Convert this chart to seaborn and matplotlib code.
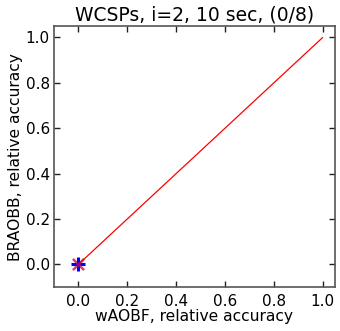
import matplotlib
matplotlib.use("Agg")
import matplotlib.pyplot as plt
import seaborn as sns
import pandas as pd

# Relative accuracy of the two solvers per instance
waobf_acc = [0.0]
braobb_acc = [0.0]
diag = [0.0, 1.0]

sns.set_style("white")
plt.rcParams["font.family"] = ["DejaVu Sans"]
plt.rcParams["text.color"] = "black"
plt.rcParams["axes.labelcolor"] = "black"

fig = plt.figure(figsize=(3.40, 3.31), dpi=100)
ax = fig.add_axes([0.159, 0.133, 0.826, 0.788])

df = pd.DataFrame({"x": waobf_acc, "y": braobb_acc})
sns.lineplot(x=diag, y=diag, ax=ax, color="red", linewidth=0.9)
sns.scatterplot(data=df, x="x", y="y", ax=ax, marker="+", color="blue", s=90, linewidth=2.2, zorder=3)
sns.scatterplot(data=df, x="x", y="y", ax=ax, marker="x", color="#cc0044", s=65, linewidth=1.8, zorder=3, alpha=0.75)

ax.set_xlim(-0.1, 1.05)
ax.set_ylim(-0.1, 1.05)
ticks = [0.0, 0.2, 0.4, 0.6, 0.8, 1.0]
ax.set_xticks(ticks)
ax.set_yticks(ticks)
ax.set_xticklabels([f"{t:.1f}" for t in ticks], fontsize=11)
ax.set_yticklabels([f"{t:.1f}" for t in ticks], fontsize=11)
ax.tick_params(direction="in", length=4, width=1, top=True, right=True, bottom=True, left=True,
               color="#222222", labelcolor="black", pad=3)
ax.tick_params(axis="x", pad=5)
for s in ax.spines.values():
    s.set_color("#555555")
    s.set_linewidth(1.2)

ax.set_title("WCSPs, i=2, 10 sec, (0/8)", fontsize=13.5, pad=4, color="black")
ax.set_xlabel("wAOBF, relative accuracy", fontsize=11.2, labelpad=0)
ax.set_ylabel("BRAOBB, relative accuracy", fontsize=11.2, labelpad=2)

fig.savefig("out.png", dpi=100)
